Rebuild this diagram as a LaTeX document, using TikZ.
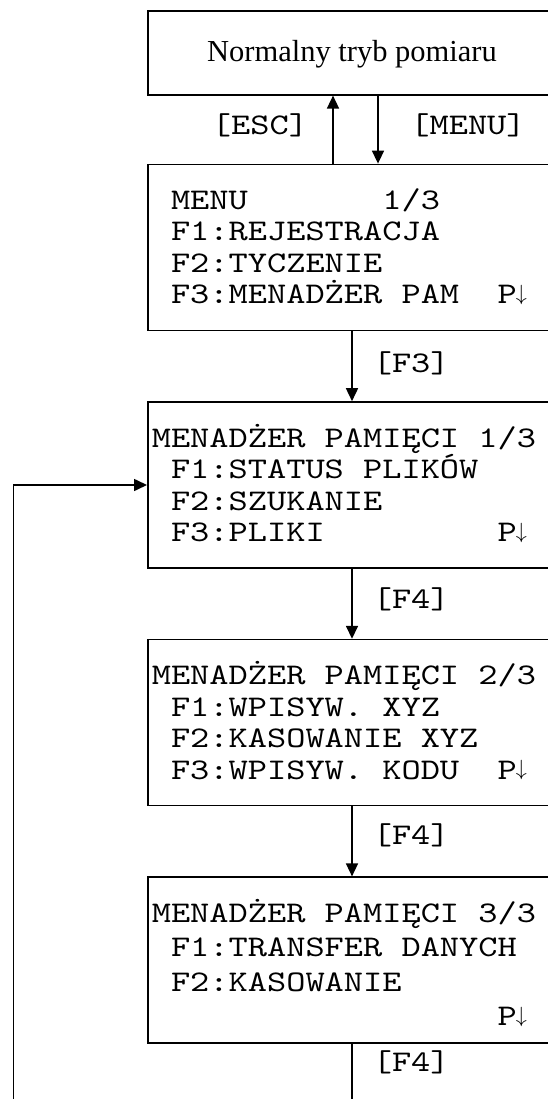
\documentclass[tikz,border=0pt]{standalone}
\usepackage{fontspec}
\newfontfamily\lcdfont{lmmono10-regular.otf}[FakeStretch=1.22]
\newfontfamily\capfont{Liberation Serif}
\usetikzlibrary{arrows.meta,positioning}

\newcommand{\lcdstrut}{\rule{0pt}{30pt}}
\newcommand{\pgdown}{P\kern-1pt\raisebox{3.4pt}{\scalebox{2.2}{\normalsize$\downarrow$}}}

\begin{document}
\begin{tikzpicture}[
  x=1pt, y=1pt,
  node distance=70pt,
  >={Triangle[length=13pt,width=12pt]},
  line width=1.6pt,
  screen/.style={draw, minimum width=421pt, minimum height=166pt, inner sep=0pt},
  lcd/.style={font={\lcdfont\fontsize{30}{31.5}\selectfont}, align=left, anchor=north west, inner sep=0pt},
  keylabel/.style={font={\lcdfont\fontsize{30}{31.5}\selectfont}, anchor=base west, inner sep=0pt}
]
\clip (0,0) rectangle (548,-1099);

% screens
\node[screen, minimum height=84pt, anchor=north west] (normal) at (147,-10) {};
\node[screen, below=68pt of normal] (menu) {};
\node[screen, below=of menu] (files) {};
\node[screen, below=of files] (xyz) {};
\node[screen, below=of xyz] (transfer) {};

\node[font={\capfont\fontsize{30.5}{36}\selectfont}, anchor=base] (normaltxt) at (352,-61.7) {Normalny tryb pomiaru};

\node[lcd] (menutxt) at ([shift={(4,-15)}]menu.north west) {\lcdstrut~MENU~~~~~~~1/3\\
~F1:REJESTRACJA\\
~F2:TYCZENIE\\
~F3:MENADŻER~PAM~~\pgdown};
\node[lcd] (filestxt) at ([shift={(4,-15)}]files.north west) {\lcdstrut MENADŻER~PAMIĘCI~1/3\\
~F1:STATUS~PLIKÓW\\
~F2:SZUKANIE\\
~F3:PLIKI~~~~~~~~~\pgdown};
\node[lcd] (xyztxt) at ([shift={(4,-15)}]xyz.north west) {\lcdstrut MENADŻER~PAMIĘCI~2/3\\
~F1:WPISYW.~XYZ\\
~F2:KASOWANIE~XYZ\\
~F3:WPISYW.~KODU~~\pgdown};
\node[lcd, font={\lcdfont\fontsize{30}{34.5}\selectfont}] (transfertxt) at ([shift={(4,-15)}]transfer.north west) {\lcdstrut MENADŻER~PAMIĘCI~3/3\\
~F1:TRANSFER~DANYCH\\
~F2:KASOWANIE\\
~~~~~~~~~~~~~~~~~~\pgdown};

% key labels
\node[keylabel, anchor=base] (esc) at (260,-135) {[ESC]};
\node[keylabel, anchor=base] (menukey) at (468,-135) {[MENU]};
\node[keylabel] (f3key) at (372,-372) {[F3]};
\node[keylabel] (f4key) at (372,-608) {[F4]};
\node[keylabel] (f4keyb) at (372,-844) {[F4]};
\node[keylabel] (f4keyc) at (372,-1071) {[F4]};

% connectors
\coordinate (escx) at (333,0);
\coordinate (menux) at (378,0);
\coordinate (trunk) at (352,0);
\coordinate (tail) at (352,-1099);
\coordinate (loop) at (13.5,-1099);

\draw[->] (menu.north -| escx) -- (normal.south -| escx);
\draw[->] (normal.south -| menux) -- (menu.north -| menux);
\draw[->] (menu.south -| trunk) -- (files.north -| trunk);
\draw[->] (files.south -| trunk) -- (xyz.north -| trunk);
\draw[->] (xyz.south -| trunk) -- (transfer.north -| trunk);
\draw (transfer.south -| trunk) -- (tail);
\draw[->] (loop) |- (files.west);
\end{tikzpicture}
\end{document}
